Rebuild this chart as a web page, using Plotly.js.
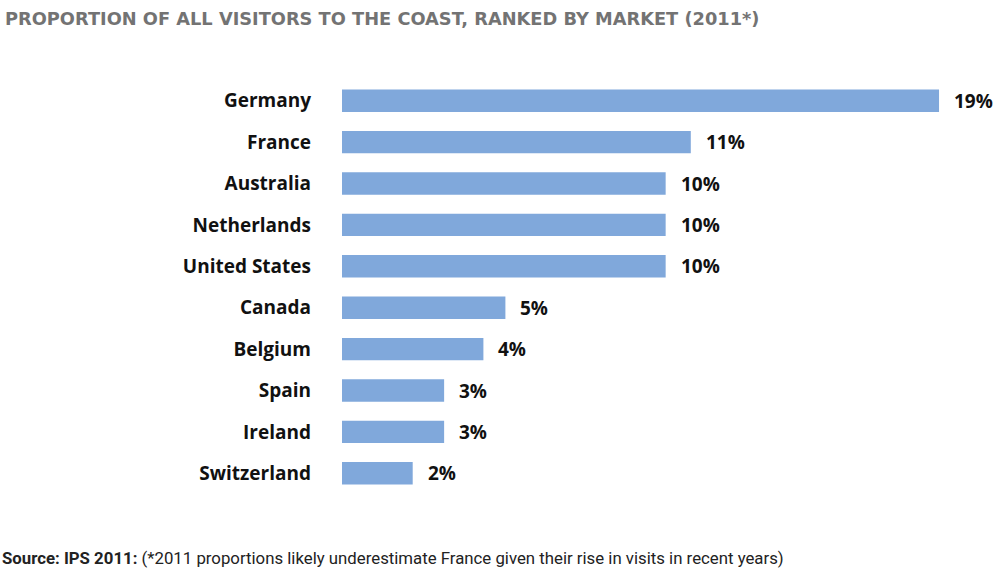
<!DOCTYPE html>
<html>
<head>
<meta charset="utf-8">
<script src="https://cdn.plot.ly/plotly-3.0.1.min.js"></script>
<style>html,body{margin:0;padding:0;background:#fff;}#chart{width:1000px;height:575px;}</style>
</head>
<body>
<div id="chart"></div>
<script>
var markets = ["Germany","France","Australia","Netherlands","United States","Canada","Belgium","Spain","Ireland","Switzerland"];
var shares = [19, 11.1, 10.3, 10.3, 10.3, 5.2, 4.5, 3.25, 3.25, 2.25];
var shareLabels = ["19%","11%","10%","10%","10%","5%","4%","3%","3%","2%"];

var FONT = "'Open Sans', sans-serif";

var trace = {
  type: "bar",
  orientation: "h",
  y: markets,
  x: shares,
  marker: {color: "#80a8db"},
  hoverinfo: "skip"
};

var annotations = markets.map(function(m, i){
  return {x: shares[i], y: m, xref: "x", yref: "y", text: shareLabels[i], showarrow: false,
    xanchor: "left", xshift: 13, font: {family: FONT, size: 19, color: "#111", weight: 700}};
});
annotations.push({
  xref: "paper", yref: "paper", x: -342/658, y: -0.155, xanchor: "left", yanchor: "middle",
  showarrow: false, align: "left",
  text: "<b>Source: IPS 2011:</b> (*2011 proportions likely underestimate France given their rise in visits in recent years)",
  font: {family: "Roboto, sans-serif", size: 16.8, color: "#222"}
});

var layout = {
  width: 1000, height: 575,
  margin: {l: 342, r: 0, t: 80, b: 81},
  paper_bgcolor: "#fff", plot_bgcolor: "#fff",
  title: {text: "PROPORTION OF ALL VISITORS TO THE COAST, RANKED BY MARKET (2011*)",
    x: 0.005, xanchor: "left", y: 0.968, yanchor: "middle", xref: "container",
    font: {family: "'DejaVu Sans', sans-serif", size: 17.8, color: "#737373", weight: 700}},
  xaxis: {range: [0, 20.94], visible: false, fixedrange: true},
  yaxis: {autorange: "reversed", showgrid: false, zeroline: false, showline: false, ticks: "",
    ticklabelstandoff: 30,
    tickfont: {family: FONT, size: 19, color: "#111", weight: 700}},
  bargap: 0.46,
  showlegend: false,
  annotations: annotations
};

Plotly.newPlot("chart", [trace], layout, {displayModeBar: false, staticPlot: true});
</script>
</body>
</html>
